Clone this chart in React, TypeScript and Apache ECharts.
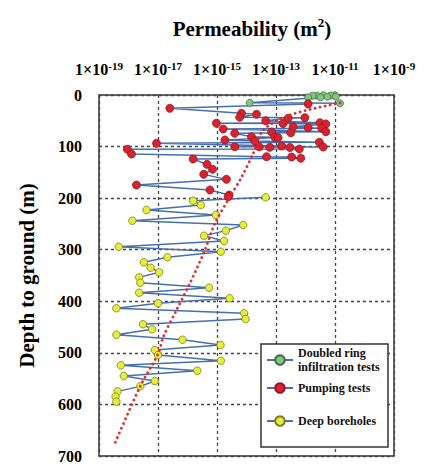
import React, { useEffect, useRef } from 'react';
import * as echarts from 'echarts';

const FONT = '"Liberation Serif", "Times New Roman", serif';

// Axis ranges (x: log10 of permeability in m², y: depth in m)
const X_MIN_EXP = -19;
const X_MAX_EXP = -9;
const X_STEP_EXP = 2;
const DEPTH_MIN = 0;
const DEPTH_MAX = 700;
const DEPTH_STEP = 100;

const SERIES_NAMES = ['Doubled ring\ninfiltration tests', 'Pumping tests', 'Deep boreholes'];

// Doubled ring infiltration tests
const RING_DEPTH = [0.5, 0.5, 1, 1.2, 1.5, 3.3, 3.3, 4.5, 4.5, 15, 15.5, 16];
const RING_LOGK = [-11.0, -11.4, -11.15, -11.62, -11.76, -11.26, -10.97, -11.91, -11.49, -13.89, -11.91, -10.83];

// Pumping tests
const PUMP_DEPTH = [
  17.5, 25.8, 35.5, 37.4, 43.2, 44.0, 45.2, 49.8, 53.7, 54.9, 55.5, 56.2, 61.5, 63.4, 64.6, 65.9,
  71.2, 71.8, 73.1, 74.3, 80.9, 82.0, 82.5, 87.3, 89.2, 91.7, 93.7, 98.9, 100.3, 100.6, 100.9, 101.4,
  101.8, 104.7, 105.2, 114.4, 119.6, 120.2, 122.7, 124.1, 134.4, 144.1, 153.8, 163.5, 174.5, 184.2,
  193.9, 197.2,
];
const PUMP_LOGK = [
  -11.91, -16.6, -14.17, -13.66, -14.23, -12.02, -12.59, -13.35, -11.51, -15.02, -12.76, -11.31, -12.42,
  -11.91, -11.45, -14.79, -11.31, -13.15, -12.5, -14.4, -13.83, -13.04, -12.93, -14.73, -13.72, -11.53,
  -17.05, -12.81, -14.4, -13.57, -11.4, -13.21, -12.53, -12.21, -18.04, -17.9, -13.32, -12.47, -12.16,
  -15.81, -15.34, -15.15, -15.45, -14.68, -17.73, -15.24, -14.59, -14.62,
];

// Deep boreholes
const BORE_DEPTH = [
  198.4, 205.0, 213.3, 223.0, 232.7, 243.8, 252.1, 263.1, 272.8, 283.1, 294.2, 303.9, 314.7, 324.4,
  334.9, 343.8, 353.5, 364.0, 373.7, 383.4, 394.2, 403.9, 413.6, 423.3, 434.4, 444.6, 454.3, 464.8,
  474.5, 484.8, 494.5, 504.2, 515.2, 524.1, 534.6, 544.9, 554.6, 564.9, 574.6, 585.0, 594.7,
];
const BORE_LOGK = [
  -13.35, -15.81, -15.55, -17.39, -15.04, -17.87, -14.11, -14.7, -15.44, -14.76, -18.33, -14.87, -16.68,
  -17.48, -17.25, -16.96, -17.64, -17.6, -15.27, -17.64, -14.57, -17.0, -18.41, -14.08, -14.03, -17.51,
  -17.2, -18.41, -16.17, -14.88, -17.11, -17.0, -14.87, -18.26, -15.67, -18.16, -17.11, -17.6, -18.37,
  -18.44, -18.41,
];

// Red dotted trend curve
const TREND_DEPTH = [15.5, 38.8, 67.9, 113, 158.4, 197.2, 248.8, 300.6, 365.1, 416.9, 468.7, 500.9, 565.6, 675.4];
const TREND_LOGK = [-10.83, -12.53, -13.43, -13.77, -14.16, -14.56, -15.07, -15.41, -15.92, -16.37, -16.82, -16.99, -17.61, -18.46];

const LINE_BLUE = '#4570ad';

const pairs = (logk: number[], depth: number[]) => depth.map((d, i) => [logk[i], d]);

export default function App() {
  const ref = useRef<HTMLDivElement>(null);
  useEffect(() => {
    if (!ref.current) return;
    const chart = echarts.init(ref.current, null, { renderer: 'svg' });
    const labelFont = { fontFamily: FONT, fontWeight: 'bold' as const, color: '#000' };
    const legendText = { fontFamily: FONT, fontWeight: 'bold' as const, fontSize: 12, color: '#111', lineHeight: 14 };
    chart.setOption({
      animation: false,
      backgroundColor: '#fff',
      title: {
        text: '{a|Permeability (m}{s|2}{a|)}',
        left: 247,
        textAlign: 'center',
        top: 11,
        textStyle: {
          rich: {
            a: { fontFamily: FONT, fontWeight: 'bold', fontSize: 21, color: '#000', lineHeight: 26 },
            s: { fontFamily: FONT, fontWeight: 'bold', fontSize: 13, color: '#000', verticalAlign: 'top' },
          },
        },
      },
      grid: {
        left: 99,
        top: 95,
        width: 295,
        height: 361,
        show: true,
        borderColor: '#333',
        borderWidth: 1.5,
        backgroundColor: 'transparent',
      },
      xAxis: {
        type: 'value',
        position: 'top',
        min: X_MIN_EXP,
        max: X_MAX_EXP,
        interval: X_STEP_EXP,
        axisLine: { show: false },
        axisTick: { show: false },
        axisLabel: {
          margin: 16,
          formatter: (v: number) => `{m|1×10}{s|${v}}`,
          rich: {
            m: { ...labelFont, fontSize: 16, lineHeight: 19 },
            s: { ...labelFont, fontSize: 11, verticalAlign: 'top' },
          },
        },
        splitLine: { show: true, lineStyle: { color: '#444', width: 1.3, type: [3, 3] } },
      },
      yAxis: {
        type: 'value',
        inverse: true,
        min: DEPTH_MIN,
        max: DEPTH_MAX,
        interval: DEPTH_STEP,
        name: 'Depth to ground (m)',
        nameLocation: 'middle',
        nameGap: 62,
        nameTextStyle: { fontFamily: FONT, fontWeight: 'bold', fontSize: 21, color: '#000' },
        axisLine: { show: false },
        axisTick: { show: false },
        axisLabel: { ...labelFont, fontSize: 16, margin: 17 },
        splitLine: { show: true, lineStyle: { color: '#444', width: 1.3, type: [3, 3] } },
      },
      graphic: [
        {
          type: 'rect',
          z: 5,
          shape: { x: 261, y: 344, width: 127, height: 103 },
          style: { fill: '#fff', stroke: '#333', lineWidth: 1.5 },
        },
      ],
      legend: [
        {
          z: 10,
          orient: 'vertical',
          left: 266,
          top: 346,
          padding: 0,
          itemGap: 7,
          itemWidth: 26,
          itemHeight: 12,
          textStyle: legendText,
          data: [SERIES_NAMES[0], SERIES_NAMES[1]],
        },
        {
          z: 10,
          orient: 'vertical',
          left: 266,
          top: 414,
          padding: 0,
          itemWidth: 26,
          itemHeight: 12,
          textStyle: legendText,
          data: [SERIES_NAMES[2]],
        },
      ],
      series: [
        {
          name: 'trend',
          type: 'line',
          data: pairs(TREND_LOGK, TREND_DEPTH),
          showSymbol: false,
          symbol: 'none',
          smooth: 0.3,
          lineStyle: { color: '#e52a2a', width: 2.8, type: [0.1, 5], cap: 'round' },
          z: 4,
          silent: true,
        },
        {
          name: SERIES_NAMES[0],
          type: 'line',
          data: pairs(RING_LOGK, RING_DEPTH),
          symbol: 'circle',
          symbolSize: 7,
          lineStyle: { color: LINE_BLUE, width: 1.4 },
          itemStyle: { color: '#86c47f', borderColor: '#3f6e46', borderWidth: 0.8 },
          z: 3,
        },
        {
          name: SERIES_NAMES[1],
          type: 'line',
          data: pairs(PUMP_LOGK, PUMP_DEPTH),
          symbol: 'circle',
          symbolSize: 8,
          lineStyle: { color: LINE_BLUE, width: 1.4 },
          itemStyle: { color: '#d7232f', borderColor: '#9a1520', borderWidth: 0.8 },
          z: 3,
        },
        {
          name: SERIES_NAMES[2],
          type: 'line',
          data: pairs(BORE_LOGK, BORE_DEPTH),
          symbol: 'circle',
          symbolSize: 7.5,
          lineStyle: { color: LINE_BLUE, width: 1.4 },
          itemStyle: { color: '#e3ef3a', borderColor: '#7d7d1c', borderWidth: 0.8 },
          z: 3,
        },
      ],
    });
    return () => chart.dispose();
  }, []);
  return <div ref={ref} style={{ position: 'absolute', left: 0, top: 0, width: 426, height: 464 }} />;
}
